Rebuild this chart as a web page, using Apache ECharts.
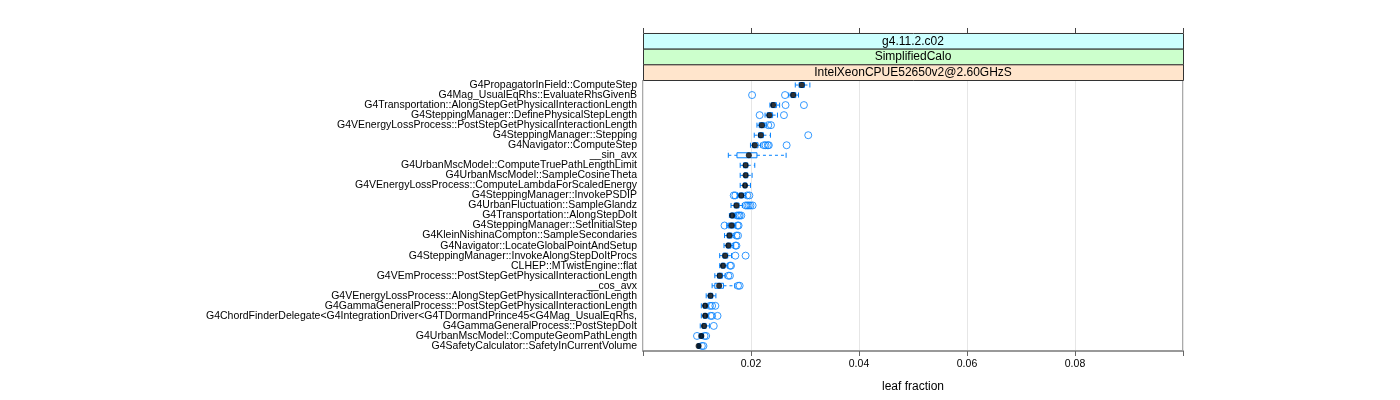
<!DOCTYPE html>
<html>
<head>
<meta charset="utf-8">
<script src="https://cdn.jsdelivr.net/npm/echarts@6/dist/echarts.min.js"></script>
<style>
  * { margin: 0; padding: 0; }
  html, body { width: 1400px; height: 400px; background: #fff; }
  #main { width: 1400px; height: 400px; }
</style>
</head>
<body>
<div id="main"></div>
<script>
// categories, top to bottom
var categories = [
  "G4PropagatorInField::ComputeStep",
  "G4Mag_UsualEqRhs::EvaluateRhsGivenB",
  "G4Transportation::AlongStepGetPhysicalInteractionLength",
  "G4SteppingManager::DefinePhysicalStepLength",
  "G4VEnergyLossProcess::PostStepGetPhysicalInteractionLength",
  "G4SteppingManager::Stepping",
  "G4Navigator::ComputeStep",
  "__sin_avx",
  "G4UrbanMscModel::ComputeTruePathLengthLimit",
  "G4UrbanMscModel::SampleCosineTheta",
  "G4VEnergyLossProcess::ComputeLambdaForScaledEnergy",
  "G4SteppingManager::InvokePSDIP",
  "G4UrbanFluctuation::SampleGlandz",
  "G4Transportation::AlongStepDoIt",
  "G4SteppingManager::SetInitialStep",
  "G4KleinNishinaCompton::SampleSecondaries",
  "G4Navigator::LocateGlobalPointAndSetup",
  "G4SteppingManager::InvokeAlongStepDoItProcs",
  "CLHEP::MTwistEngine::flat",
  "G4VEmProcess::PostStepGetPhysicalInteractionLength",
  "__cos_avx",
  "G4VEnergyLossProcess::AlongStepGetPhysicalInteractionLength",
  "G4GammaGeneralProcess::PostStepGetPhysicalInteractionLength",
  "G4ChordFinderDelegate<G4IntegrationDriver<G4TDormandPrince45<G4Mag_UsualEqRhs,",
  "G4GammaGeneralProcess::PostStepDoIt",
  "G4UrbanMscModel::ComputeGeomPathLength",
  "G4SafetyCalculator::SafetyInCurrentVolume"
];

// box stats (leaf fraction)
var whiskLo = [0.0282, 0.0270, 0.0235, 0.0226, 0.0211, 0.0206, 0.0199, 0.0158, 0.0180, 0.0180,
               0.0180, 0.0175, 0.0163, 0.0160, 0.0155, 0.0151, 0.0150, 0.0142, 0.0142, 0.0133,
               0.0128, 0.0117, 0.0108, 0.0108, 0.0106, 0.0104, 0.0101];
var q1      = [0.0289, 0.0274, 0.0238, 0.0230, 0.0215, 0.0214, 0.0203, 0.0174, 0.0186, 0.0187,
               0.0186, 0.0178, 0.0169, 0.0162, 0.0158, 0.0156, 0.0155, 0.0148, 0.0145, 0.0138,
               0.0133, 0.0121, 0.0112, 0.0112, 0.0110, 0.0106, 0.0102];
var median  = [0.0294, 0.0278, 0.0241, 0.0234, 0.0220, 0.0218, 0.0207, 0.0196, 0.0190, 0.0190,
               0.0189, 0.0182, 0.0173, 0.0165, 0.0164, 0.0160, 0.0158, 0.0152, 0.0148, 0.0142,
               0.0141, 0.0125, 0.0115, 0.0115, 0.0113, 0.0108, 0.0103];
var q3      = [0.0299, 0.0283, 0.0247, 0.0240, 0.0225, 0.0223, 0.0213, 0.0211, 0.0194, 0.0194,
               0.0192, 0.0186, 0.0178, 0.0169, 0.0169, 0.0165, 0.0163, 0.0157, 0.0152, 0.0147,
               0.0149, 0.0129, 0.0118, 0.0118, 0.0117, 0.0110, 0.0105];
var whiskHi = [0.0309, 0.0288, 0.0253, 0.0249, 0.0229, 0.0236, 0.0218, 0.0265, 0.0207, 0.0202,
               0.0199, 0.0190, 0.0184, 0.0172, 0.0172, 0.0169, 0.0168, 0.0164, 0.0157, 0.0152,
               0.0170, 0.0135, 0.0121, 0.0121, 0.0123, 0.0112, 0.0106];
var outliers = [
  [], [0.0202, 0.0263], [0.0264, 0.0298], [0.0216, 0.0261], [0.0232, 0.0237],
  [0.0306], [0.0224, 0.0227, 0.0231, 0.0233, 0.0266], [], [], [],
  [], [0.0168, 0.0171, 0.0193, 0.0197], [0.0190, 0.0193, 0.0196, 0.0199, 0.0203],
  [0.0174, 0.0177, 0.0179, 0.0182], [0.0151, 0.0175, 0.0177], [0.0173, 0.0176],
  [0.0171, 0.0173], [0.0171, 0.0190], [0.0161, 0.0163], [0.0158, 0.0161],
  [0.0176, 0.0179], [], [0.0124, 0.0128, 0.0134], [0.0125, 0.0128, 0.0138],
  [0.0131], [0.0100, 0.0114, 0.0117], [0.0109, 0.0112]
];

var xTicks = [0.02, 0.04, 0.06, 0.08];
var strips = ["g4.11.2.c02", "SimplifiedCalo", "IntelXeonCPUE52650v2@2.60GHzS"];
var stripColors = ["#ccffff", "#ccffcc", "#ffe5cc"];

var boxData = categories.map(function (c, i) {
  return [whiskLo[i], q1[i], median[i], q3[i], whiskHi[i], i];
});
var medData = categories.map(function (c, i) { return [median[i], i]; });
var outData = [];
outliers.forEach(function (arr, i) {
  arr.forEach(function (v) { outData.push([v, i]); });
});

var BLUE = "#0080ff";
var gridL = 643, gridR = 217, gridT = 80, gridB = 49;
var stripH = 15.67;

var chart = echarts.init(document.getElementById("main"), null, { renderer: "canvas" });

var graphics = [];
strips.forEach(function (s, k) {
  graphics.push({
    type: "rect",
    left: gridL, top: gridT - stripH * 3 + stripH * k,
    shape: { width: 1400 - gridL - gridR, height: stripH },
    style: { fill: stripColors[k], stroke: "#333", lineWidth: 1 },
    z: 10
  });
  graphics.push({
    type: "text",
    x: gridL + (1400 - gridL - gridR) / 2,
    y: gridT - stripH * 3 + stripH * k + stripH / 2 + 0.5,
    style: { text: s, fontSize: 12, fontFamily: "Liberation Sans", fill: "#000",
             textAlign: "center", textVerticalAlign: "middle" },
    z: 11
  });
});

chart.setOption({
  animation: false,
  textStyle: { fontFamily: "Liberation Sans" },
  grid: {
    left: gridL, right: gridR, top: gridT, bottom: gridB,
    show: true, borderColor: "#555", borderWidth: 1
  },
  graphic: graphics,
  xAxis: [
    {
      type: "value", min: 0, max: 0.1, interval: 0.02,
      axisLine: { show: true, onZero: false, lineStyle: { color: "#999", width: 2 } },
      axisTick: { show: true, length: 5, lineStyle: { color: "#666" } },
      axisLabel: {
        fontSize: 10.5, color: "#000", margin: 8,
        formatter: function (v) {
          return xTicks.some(function (t) { return Math.abs(t - v) < 1e-9; }) ? v.toFixed(2) : "";
        }
      },
      splitLine: { show: true, lineStyle: { color: "#e6e6e6", width: 1 } },
      name: "leaf fraction", nameLocation: "middle", nameGap: 30,
      nameTextStyle: { fontSize: 12, color: "#000" }
    },
    {
      type: "value", min: 0, max: 0.1, interval: 0.02, position: "top", offset: stripH * 3,
      axisLine: { show: false },
      axisTick: { show: true, length: 5, lineStyle: { color: "#444" } },
      axisLabel: { show: false },
      splitLine: { show: false }
    }
  ],
  yAxis: {
    type: "category", data: categories, inverse: true,
    axisLine: { show: false }, axisTick: { show: false },
    axisLabel: { fontSize: 10.5, color: "#000", margin: 6, interval: 0 },
    splitLine: { show: false }
  },
  series: [
    {
      type: "custom",
      name: "box",
      data: boxData,
      encode: { x: [0, 1, 2, 3, 4], y: 5 },
      renderItem: function (params, api) {
        var idx = api.value(5);
        var pLo = api.coord([api.value(0), idx]);
        var pQ1 = api.coord([api.value(1), idx]);
        var pQ3 = api.coord([api.value(3), idx]);
        var pHi = api.coord([api.value(4), idx]);
        var band = api.size([0, 1])[1];
        var bh = band * 0.5;
        var ch = band * 0.25;
        var y = pQ1[1];
        var dashed = { stroke: BLUE, lineWidth: 1, lineDash: [3, 3], fill: null };
        var solid = { stroke: BLUE, lineWidth: 1, fill: null };
        return {
          type: "group",
          children: [
            { type: "line", shape: { x1: pLo[0], y1: y, x2: pQ1[0], y2: y }, style: dashed },
            { type: "line", shape: { x1: pQ3[0], y1: y, x2: pHi[0], y2: y }, style: dashed },
            { type: "line", shape: { x1: pLo[0], y1: y - ch, x2: pLo[0], y2: y + ch }, style: solid },
            { type: "line", shape: { x1: pHi[0], y1: y - ch, x2: pHi[0], y2: y + ch }, style: solid },
            { type: "rect", shape: { x: pQ1[0], y: y - bh / 2, width: pQ3[0] - pQ1[0], height: bh },
              style: { stroke: BLUE, lineWidth: 1, fill: "rgba(0,128,255,0.05)" } }
          ]
        };
      },
      z: 2
    },
    {
      type: "scatter",
      name: "outliers",
      data: outData,
      symbol: "circle",
      symbolSize: 7,
      itemStyle: { color: "rgba(255,255,255,0)", borderColor: BLUE, borderWidth: 1 },
      z: 3
    },
    {
      type: "scatter",
      name: "median",
      data: medData,
      symbol: "circle",
      symbolSize: 6,
      itemStyle: { color: "#000" },
      z: 4
    }
  ]
});
</script>
</body>
</html>
